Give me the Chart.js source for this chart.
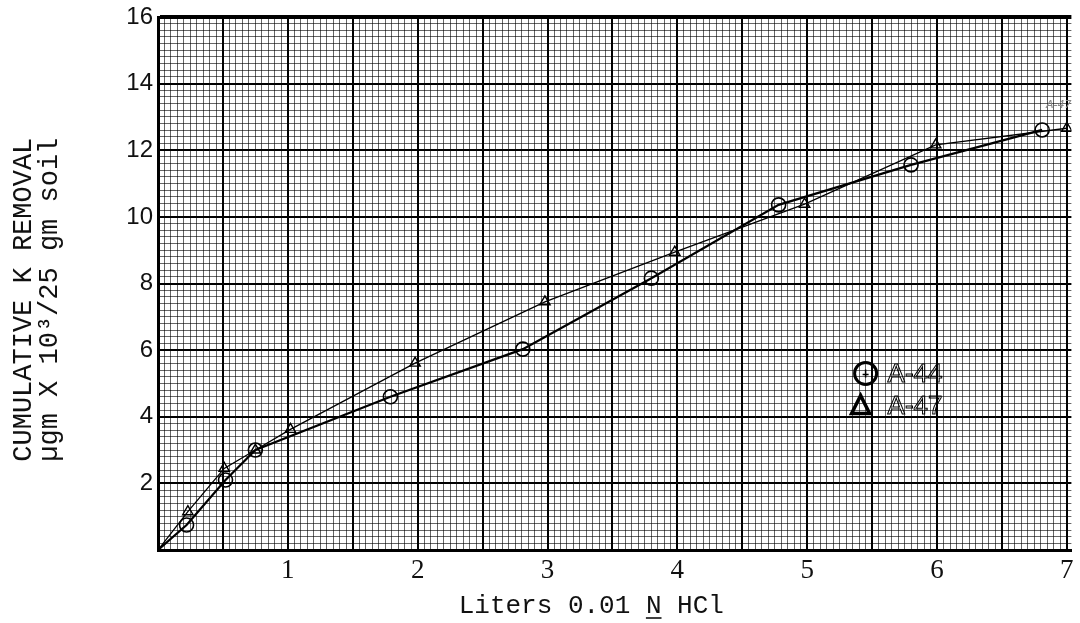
<!DOCTYPE html>
<html>
<head>
<meta charset="utf-8">
<title>Cumulative K removal</title>
<script src="https://cdn.jsdelivr.net/npm/chart.js@4.4.1/dist/chart.umd.min.js"></script>
<style>
  html, body { margin: 0; padding: 0; background: #fff; }
  #wrap { width: 1080px; height: 623px; }
</style>
</head>
<body>
<div id="wrap"><canvas id="kChart"></canvas></div>
<script>
// values
const litersA44 = [0, 0.22, 0.52, 0.75, 1.79, 2.81, 3.80, 4.78, 5.80, 6.81];
const removalA44 = [0, 0.75, 2.10, 3.00, 4.60, 6.03, 8.16, 10.36, 11.56, 12.61];
const litersA47 = [0, 0.23, 0.51, 0.75, 1.02, 1.98, 2.98, 3.98, 4.98, 5.99, 7.00];
const removalA47 = [0, 1.15, 2.45, 3.00, 3.62, 5.61, 7.45, 8.94, 10.38, 12.16, 12.66];
const xTickLabels = ['1', '2', '3', '4', '5', '6', '7'];
const yTickLabels = ['2', '4', '6', '8', '10', '12', '14', '16'];
const seriesNames = ['A-44', 'A-47'];

const xTitle = 'Liters 0.01 N HCl';
const yTitle = ['CUMULATIVE K REMOVAL', 'µgm X 10³/25 gm soil'];

function pairs(xs, ys) {
  return xs.map((x, i) => ({ x, y: ys[i] }));
}

function intLabel(list) {
  return v => {
    const r = Math.round(v);
    if (Math.abs(v - r) > 1e-6) return '';
    return list.includes(String(r)) ? String(r) : '';
  };
}

const gridColor = c => (c.index % 10 === 0 ? '#000' : 'rgba(0,0,0,0.6)');

// underline the N of "0.01 N HCl" in the x title
const underlineN = {
  id: 'underlineN',
  afterDraw(chart) {
    const sx = chart.scales.x;
    const t = sx.options.title;
    const ctx = chart.ctx;
    ctx.save();
    ctx.font = `${t.font.size}px ${t.font.family}`;
    const w = ctx.measureText(t.text).width;
    const start = (sx.left + sx.right) / 2 - w / 2;
    const pre = ctx.measureText(xTitle.slice(0, xTitle.indexOf('N'))).width;
    const nW = ctx.measureText('N').width;
    const y = sx.bottom - t.padding.bottom - 1;
    ctx.strokeStyle = '#000';
    ctx.lineWidth = 1.5;
    ctx.beginPath();
    ctx.moveTo(start + pre, y);
    ctx.lineTo(start + pre + nW, y);
    ctx.stroke();
    ctx.restore();
  }
};

// hand-drawn legend inside the plot
const legendAnchor = { x: 5.45, y: 5.3 };
const paperLegend = {
  id: 'paperLegend',
  afterDatasetsDraw(chart) {
    const { ctx, scales } = chart;
    const cx = scales.x.getPixelForValue(legendAnchor.x);
    const cy = scales.y.getPixelForValue(legendAnchor.y);
    const gap = 32;
    ctx.save();
    ctx.strokeStyle = '#000';
    ctx.lineWidth = 3;
    ctx.beginPath();
    ctx.arc(cx, cy, 11, 0, Math.PI * 2);
    ctx.stroke();
    ctx.lineWidth = 1.5;
    ctx.beginPath();
    ctx.moveTo(cx, cy - 4); ctx.lineTo(cx, cy + 4);
    ctx.moveTo(cx - 3, cy + 1); ctx.lineTo(cx + 3, cy + 1);
    ctx.stroke();

    const ty = cy + gap;
    ctx.lineWidth = 3.5;
    ctx.beginPath();
    ctx.moveTo(cx - 5, ty - 10);
    ctx.lineTo(cx - 14, ty + 8);
    ctx.lineTo(cx + 4, ty + 8);
    ctx.closePath();
    ctx.stroke();

    ctx.font = '26px "Liberation Sans"';
    ctx.textBaseline = 'middle';
    ctx.lineWidth = 1;
    ctx.strokeText(seriesNames[0], cx + 22, cy + 1);
    ctx.strokeText(seriesNames[1], cx + 22, ty + 1);

    // faint pencil note near the last points
    ctx.font = 'italic 11px "DejaVu Sans"';
    ctx.fillStyle = '#888';
    ctx.fillText(seriesNames[1], scales.x.getPixelForValue(6.84), scales.y.getPixelForValue(13.35));
    ctx.restore();
  }
};

const ctx = document.getElementById('kChart').getContext('2d');
new Chart(ctx, {
  type: 'line',
  data: {
    datasets: [
      {
        label: seriesNames[0],
        data: pairs(litersA44, removalA44),
        borderColor: '#000',
        borderWidth: 2.2,
        pointStyle: 'circle',
        pointRadius: c => (c.dataIndex === 0 ? 0 : 7),
        pointBorderWidth: 1.6,
        pointBorderColor: '#000',
        pointBackgroundColor: 'rgba(0,0,0,0)',
        tension: 0
      },
      {
        label: seriesNames[1],
        data: pairs(litersA47, removalA47),
        borderColor: '#000',
        borderWidth: 1.3,
        pointStyle: 'triangle',
        pointRadius: c => (c.dataIndex === 0 ? 0 : 6),
        pointBorderWidth: 1.4,
        pointBorderColor: '#000',
        pointBackgroundColor: 'rgba(0,0,0,0)',
        tension: 0
      }
    ]
  },
  options: {
    responsive: true,
    maintainAspectRatio: false,
    animation: false,
    layout: { padding: { top: 17, right: 0, left: 0, bottom: 0 } },
    plugins: {
      legend: { display: false },
      tooltip: { enabled: false }
    },
    scales: {
      x: {
        type: 'linear',
        min: 0,
        max: 7.035,
        afterFit: s => { s.height = 73; s.paddingLeft = 0; s.paddingRight = 0; },
        ticks: {
          stepSize: 0.05,
          includeBounds: false,
          autoSkip: false,
          maxRotation: 0,
          minRotation: 0,
          padding: 5,
          color: '#111',
          font: { family: '"Liberation Serif"', size: 27 },
          callback: intLabel(xTickLabels)
        },
        grid: {
          color: gridColor,
          lineWidth: c => (c.index % 10 === 0 ? 2 : 1),
          drawTicks: false
        },
        border: { display: true, color: '#000', width: 3 },
        title: {
          display: true,
          text: xTitle + '   ',
          color: '#111',
          font: { family: '"Liberation Mono"', size: 26, lineHeight: 1 },
          padding: { top: 0, bottom: 4 }
        }
      },
      y: {
        type: 'linear',
        min: 0,
        max: 16,
        afterFit: s => { s.width = 158; s.paddingTop = 0; s.paddingBottom = 0; },
        ticks: {
          stepSize: 0.2,
          autoSkip: false,
          padding: 5,
          color: '#111',
          font: { family: '"Liberation Sans"', size: 24 },
          callback: intLabel(yTickLabels)
        },
        grid: {
          color: gridColor,
          lineWidth: c => (c.index === 80 ? 4 : c.index % 10 === 0 ? 2 : 1),
          drawTicks: false
        },
        border: { display: true, color: '#000', width: 3 },
        title: {
          display: true,
          text: yTitle.map(s => s + '  '),
          color: '#111',
          font: { family: '"Liberation Mono"', size: 27, lineHeight: 0.96 },
          padding: { top: 11, bottom: 0 }
        }
      }
    }
  },
  plugins: [paperLegend, underlineN]
});
</script>
</body>
</html>
